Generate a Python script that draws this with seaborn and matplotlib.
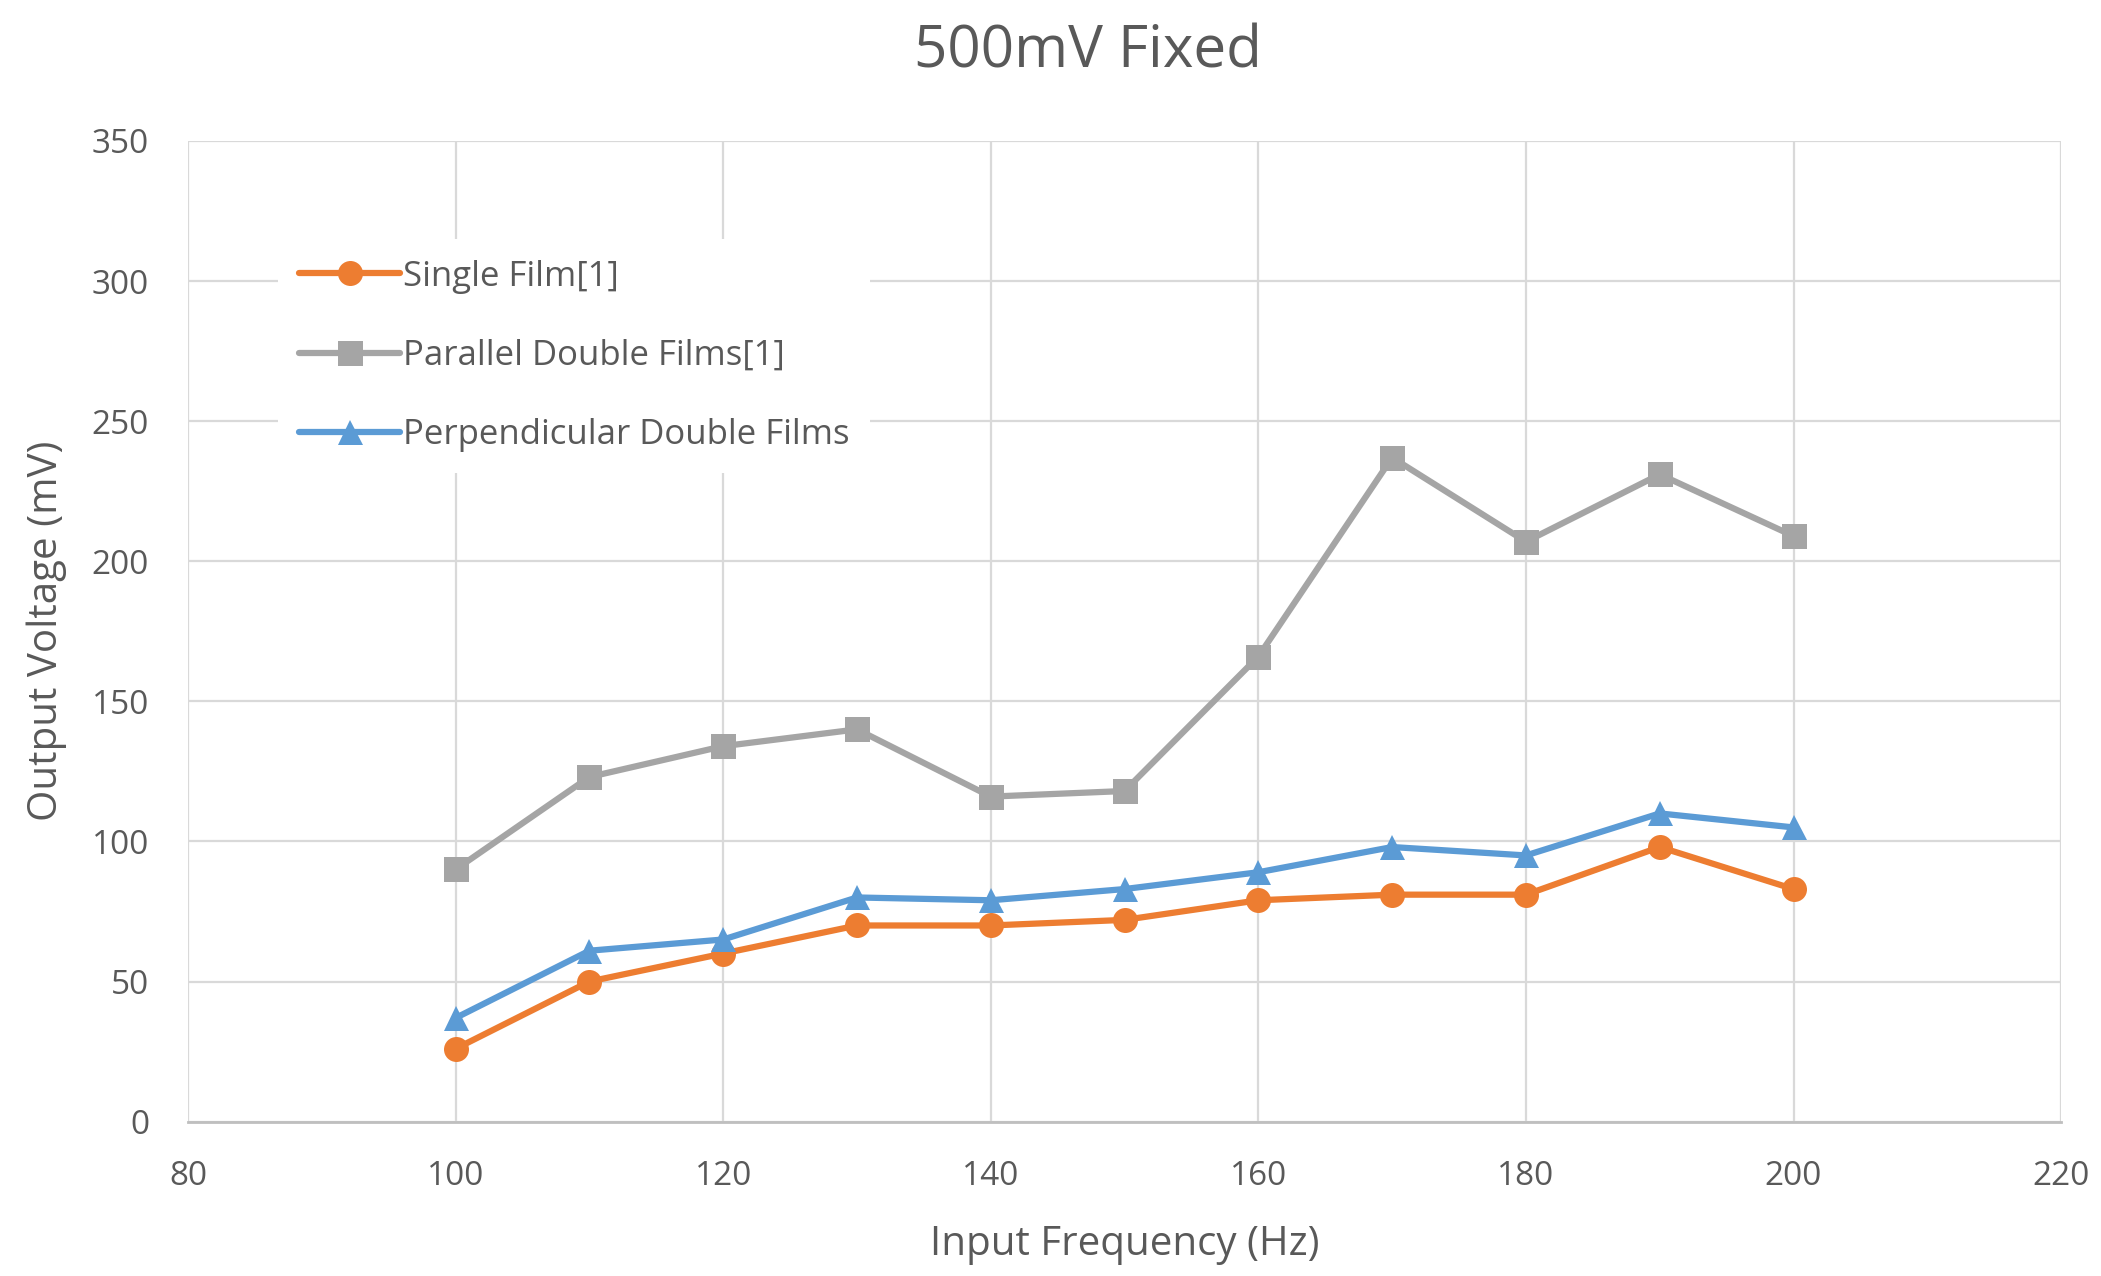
import numpy as np
import pandas as pd
import matplotlib
matplotlib.use("Agg")
import matplotlib.pyplot as plt
import seaborn as sns

freq = [100, 110, 120, 130, 140, 150, 160, 170, 180, 190, 200]
single_film = [26, 50, 60, 70, 70, 72, 79, 81, 81, 98, 83]
parallel_double = [90, 123, 134, 140, 116, 118, 166, 237, 207, 231, 209]
perpendicular_double = [37, 61, 65, 80, 79, 83, 89, 98, 95, 110, 105]
series_names = ["Single Film[1]", "Parallel Double Films[1]", "Perpendicular Double Films"]
x_ticks = [80, 100, 120, 140, 160, 180, 200, 220]
y_ticks = [0, 50, 100, 150, 200, 250, 300, 350]

df = pd.DataFrame({
    "freq": freq * 3,
    "voltage": single_film + parallel_double + perpendicular_double,
    "series": [series_names[0]] * len(freq) + [series_names[1]] * len(freq) + [series_names[2]] * len(freq),
})

sns.set_theme(style="white")
plt.rcParams["font.family"] = ["Open Sans", "DejaVu Sans"]
text_color = "#595959"

fig = plt.figure(figsize=(21.01, 12.76), dpi=100)
ax = fig.add_axes([0.0895, 0.121, 0.8915, 0.7685])

palette = {series_names[0]: "#ED7D31", series_names[1]: "#A5A5A5", series_names[2]: "#5B9BD5"}
markers = {series_names[0]: "o", series_names[1]: "s", series_names[2]: "^"}
sns.lineplot(data=df, x="freq", y="voltage", hue="series", style="series",
             hue_order=series_names, style_order=series_names,
             palette=palette, markers=markers, dashes=False,
             linewidth=4.5, markersize=18, markeredgewidth=0, ax=ax, zorder=3)

ax.set_xlim(80, 220)
ax.set_ylim(0, 350)
ax.set_xticks(x_ticks)
ax.set_yticks(y_ticks)
ax.grid(True, color="#D9D9D9", linewidth=1.6)
ax.set_axisbelow(True)
for s in ["left", "right", "top"]:
    ax.spines[s].set_visible(False)
ax.spines["bottom"].set_color("#BFBFBF")
ax.spines["bottom"].set_linewidth(2)
ax.tick_params(axis="both", length=0, labelsize=24, colors=text_color)
ax.tick_params(axis="y", pad=28)
ax.tick_params(axis="x", pad=28)

ax.set_xlabel("Input Frequency (Hz)", fontsize=29, color=text_color, labelpad=22)
ax.set_ylabel("Output Voltage (mV)", fontsize=29, color=text_color, labelpad=18)
fig.suptitle("500mV Fixed", fontsize=42, x=0.518, color=text_color, y=0.982)

leg = ax.legend(loc="upper left", bbox_to_anchor=(0.039, 0.918), fontsize=25,
                frameon=True, facecolor="white", edgecolor="none", framealpha=1,
                labelspacing=1.3, handlelength=2.9, handletextpad=0.08,
                borderpad=0.6, fancybox=False)
for t in leg.get_texts():
    t.set_color(text_color)
for h in leg.legend_handles:
    h.set_linewidth(4.5)
    h.set_markersize(18)

fig.savefig("out.png", dpi=100, facecolor="white")
